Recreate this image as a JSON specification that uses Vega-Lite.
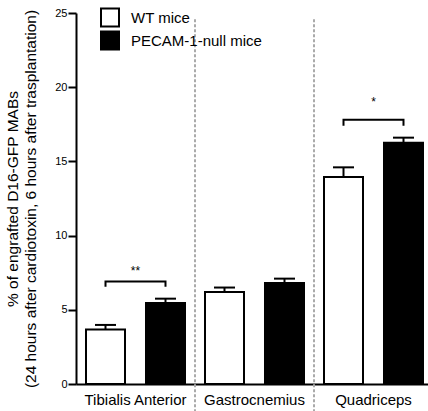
{
  "$schema": "https://vega.github.io/schema/vega-lite/v6.json",
  "width": 352,
  "height": 371,
  "autosize": {"type": "none"},
  "padding": {"left": 76, "top": 13, "right": 0, "bottom": 27},
  "background": "white",
  "config": {
    "view": {"stroke": null},
    "font": "Liberation Sans",
    "axis": {"grid": false, "domainColor": "black", "domainWidth": 2, "tickColor": "black", "tickWidth": 2, "labelColor": "black", "titleColor": "black", "labelFont": "Liberation Sans", "titleFont": "Liberation Sans"},
    "legend": {"labelFont": "Liberation Sans"}
  },
  "datasets": {
    "bars": [
      {"muscle": "Tibialis Anterior", "group": "WT mice", "value": 3.68, "upper": 3.98},
      {"muscle": "Tibialis Anterior", "group": "PECAM-1-null mice", "value": 5.45, "upper": 5.75},
      {"muscle": "Gastrocnemius", "group": "WT mice", "value": 6.2, "upper": 6.5},
      {"muscle": "Gastrocnemius", "group": "PECAM-1-null mice", "value": 6.8, "upper": 7.1},
      {"muscle": "Quadriceps", "group": "WT mice", "value": 13.95, "upper": 14.6},
      {"muscle": "Quadriceps", "group": "PECAM-1-null mice", "value": 16.25, "upper": 16.6}
    ],
    "brackets": [
      {"muscle": "Tibialis Anterior", "group": "WT mice", "value": 6.55, "seq": 1},
      {"muscle": "Tibialis Anterior", "group": "WT mice", "value": 6.9, "seq": 2},
      {"muscle": "Tibialis Anterior", "group": "PECAM-1-null mice", "value": 6.9, "seq": 3},
      {"muscle": "Tibialis Anterior", "group": "PECAM-1-null mice", "value": 6.55, "seq": 4},
      {"muscle": "Quadriceps", "group": "WT mice", "value": 17.4, "seq": 1},
      {"muscle": "Quadriceps", "group": "WT mice", "value": 17.8, "seq": 2},
      {"muscle": "Quadriceps", "group": "PECAM-1-null mice", "value": 17.8, "seq": 3},
      {"muscle": "Quadriceps", "group": "PECAM-1-null mice", "value": 17.4, "seq": 4}
    ],
    "stars": [
      {"muscle": "Tibialis Anterior", "label": "**", "value": 7.34},
      {"muscle": "Quadriceps", "label": "*", "value": 18.72}
    ],
    "dividers": [
      {"muscle": "Gastrocnemius", "value": 24.58, "bottom": -1.9},
      {"muscle": "Quadriceps", "value": 24.58, "bottom": -1.9}
    ]
  },
  "layer": [
    {
      "data": {"name": "dividers"},
      "mark": {"type": "rule", "color": "#aaaaaa", "strokeWidth": 2, "strokeDash": [3, 2]},
      "encoding": {
        "x": {"field": "muscle", "type": "nominal", "bandPosition": 0, "sort": ["Tibialis Anterior", "Gastrocnemius", "Quadriceps"],
              "scale": {"domain": ["Tibialis Anterior", "Gastrocnemius", "Quadriceps"], "range": [0, 357], "paddingInner": 0, "paddingOuter": 0},
              "axis": {"title": null, "ticks": false, "tickSize": 0, "bandPosition": 0.5, "labelPadding": 8, "labelFontSize": 15, "labelAngle": 0, "labelOffset": 0}},
        "y": {"field": "value", "type": "quantitative",
              "scale": {"domain": [0, 25], "nice": false, "zero": true},
              "axis": {"values": [0, 5, 10, 15, 20, 25], "tickSize": 8, "labelPadding": 1, "labelFontSize": 11,
                       "title": ["% of engrafted D16-GFP MABs", "(24 hours after cardiotoxin, 6 hours after trasplantation)"],
                       "titleFontSize": 15.5, "titleFontWeight": "normal", "titleLineHeight": 18, "titlePadding": 16}},
        "y2": {"field": "bottom"}
      }
    },
    {
      "data": {"name": "bars"},
      "mark": {"type": "bar", "stroke": "black", "strokeWidth": 2},
      "encoding": {
        "x": {"field": "muscle", "type": "nominal", "sort": ["Tibialis Anterior", "Gastrocnemius", "Quadriceps"]},
        "xOffset": {"field": "group", "type": "nominal", "sort": ["WT mice", "PECAM-1-null mice"],
                    "scale": {"domain": ["WT mice", "PECAM-1-null mice"], "paddingInner": 0.35, "paddingOuter": 0.1667}},
        "y": {"field": "value", "type": "quantitative"},
        "fill": {"field": "group", "type": "nominal", "sort": ["WT mice", "PECAM-1-null mice"],
                 "scale": {"domain": ["WT mice", "PECAM-1-null mice"], "range": ["white", "black"]},
                 "legend": {"title": null, "orient": "none", "legendX": 24, "legendY": -5.5, "padding": 0,
                            "symbolType": "square", "symbolSize": 324, "symbolStrokeColor": "black", "symbolStrokeWidth": 2,
                            "labelFontSize": 15, "labelColor": "black", "labelOffset": 11, "rowPadding": -3}}
      }
    },
    {
      "data": {"name": "bars"},
      "mark": {"type": "rule", "color": "black", "strokeWidth": 2},
      "encoding": {
        "x": {"field": "muscle", "type": "nominal", "sort": ["Tibialis Anterior", "Gastrocnemius", "Quadriceps"]},
        "xOffset": {"field": "group", "type": "nominal", "sort": ["WT mice", "PECAM-1-null mice"]},
        "y": {"field": "value", "type": "quantitative"},
        "y2": {"field": "upper"}
      }
    },
    {
      "data": {"name": "bars"},
      "mark": {"type": "tick", "orient": "horizontal", "size": 21, "thickness": 2, "color": "black", "opacity": 1},
      "encoding": {
        "x": {"field": "muscle", "type": "nominal", "sort": ["Tibialis Anterior", "Gastrocnemius", "Quadriceps"]},
        "xOffset": {"field": "group", "type": "nominal", "sort": ["WT mice", "PECAM-1-null mice"]},
        "y": {"field": "upper", "type": "quantitative"}
      }
    },
    {
      "data": {"name": "brackets"},
      "mark": {"type": "line", "color": "black", "strokeWidth": 2, "strokeJoin": "miter", "strokeCap": "butt"},
      "encoding": {
        "x": {"field": "muscle", "type": "nominal", "sort": ["Tibialis Anterior", "Gastrocnemius", "Quadriceps"]},
        "xOffset": {"field": "group", "type": "nominal", "sort": ["WT mice", "PECAM-1-null mice"]},
        "y": {"field": "value", "type": "quantitative"},
        "detail": {"field": "muscle"},
        "order": {"field": "seq", "type": "quantitative"}
      }
    },
    {
      "data": {"name": "stars"},
      "mark": {"type": "text", "fontSize": 12, "baseline": "alphabetic", "align": "center", "color": "black"},
      "encoding": {
        "x": {"field": "muscle", "type": "nominal", "sort": ["Tibialis Anterior", "Gastrocnemius", "Quadriceps"]},
        "y": {"field": "value", "type": "quantitative"},
        "text": {"field": "label"}
      }
    }
  ]
}
